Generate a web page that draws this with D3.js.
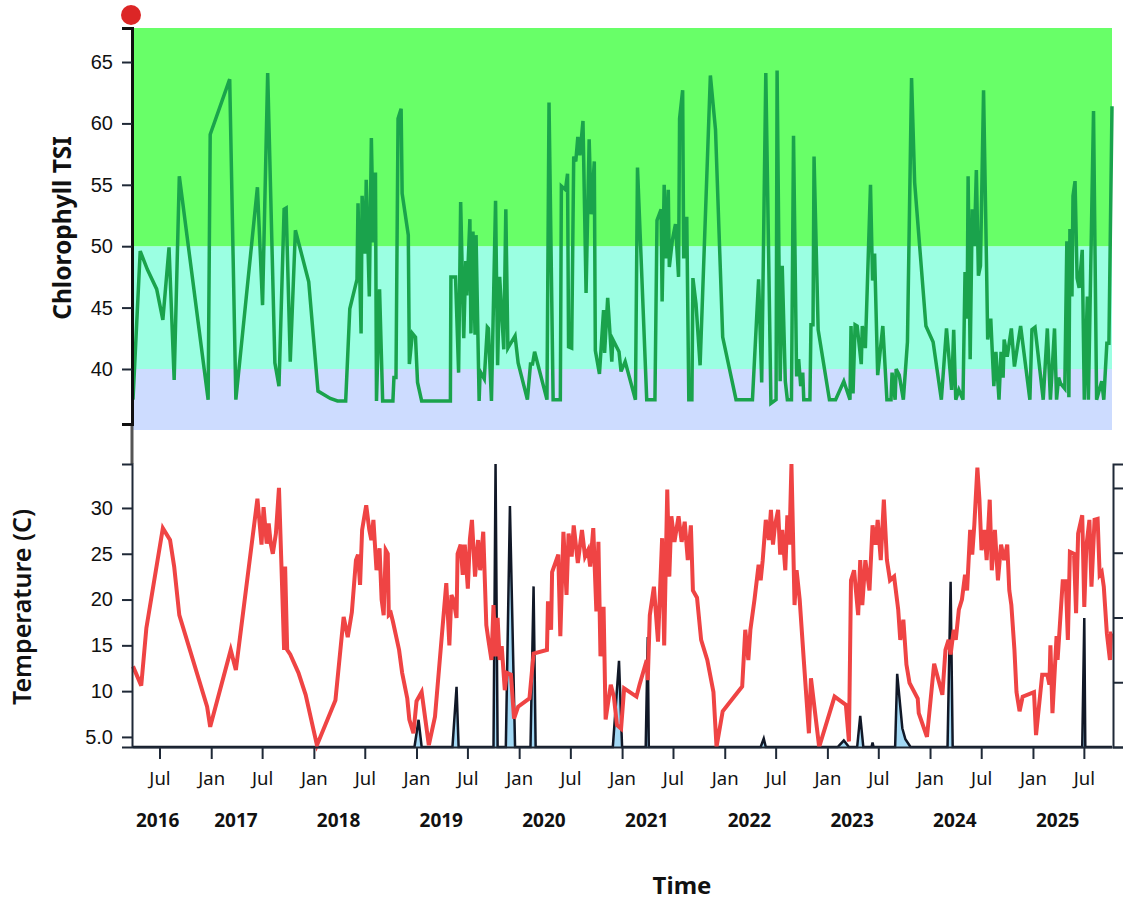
<!DOCTYPE html>
<html>
<head>
<meta charset="utf-8">
<script src="https://cdn.jsdelivr.net/npm/d3@7"></script>
<style>
  body { margin: 0; background: #fff; }
  text { font-family: "Noto Sans", sans-serif; }
</style>
</head>
<body>
<div id="chart"></div>
<script>
// sample dates are decimal years
var tsiYears = [2016.24,2016.31,2016.38,2016.47,2016.53,2016.59,2016.64,2016.69,2016.97,2016.99,2017.18,2017.24,2017.45,2017.50,2017.55,2017.62,2017.66,2017.71,2017.73,2017.77,2017.82,2017.95,2018.04,2018.16,2018.23,2018.31,2018.35,2018.42,2018.43,2018.46,2018.47,2018.50,2018.51,2018.54,2018.56,2018.58,2018.60,2018.61,2018.64,2018.67,2018.77,2018.78,2018.80,2018.82,2018.85,2018.86,2018.92,2018.93,2018.96,2018.99,2019.01,2019.05,2019.33,2019.335,2019.38,2019.41,2019.43,2019.46,2019.48,2019.49,2019.52,2019.53,2019.55,2019.57,2019.58,2019.61,2019.62,2019.66,2019.69,2019.70,2019.73,2019.77,2019.79,2019.81,2019.85,2019.87,2019.89,2019.96,2019.99,2020.08,2020.11,2020.13,2020.15,2020.27,2020.29,2020.33,2020.40,2020.41,2020.45,2020.47,2020.48,2020.51,2020.53,2020.55,2020.57,2020.59,2020.62,2020.65,2020.68,2020.70,2020.73,2020.74,2020.78,2020.82,2020.83,2020.86,2020.90,2020.91,2020.97,2020.99,2021.03,2021.13,2021.15,2021.24,2021.32,2021.34,2021.38,2021.39,2021.41,2021.43,2021.45,2021.46,2021.49,2021.52,2021.55,2021.56,2021.59,2021.60,2021.63,2021.65,2021.68,2021.69,2021.72,2021.76,2021.86,2021.91,2021.98,2022.11,2022.27,2022.33,2022.36,2022.40,2022.45,2022.50,2022.51,2022.54,2022.56,2022.59,2022.61,2022.65,2022.67,2022.70,2022.72,2022.74,2022.76,2022.77,2022.83,2022.84,2022.86,2022.87,2022.91,2023.02,2023.08,2023.16,2023.22,2023.23,2023.25,2023.27,2023.29,2023.33,2023.34,2023.37,2023.42,2023.44,2023.46,2023.49,2023.54,2023.58,2023.62,2023.63,2023.66,2023.67,2023.70,2023.74,2023.78,2023.82,2023.85,2023.96,2024.03,2024.11,2024.16,2024.21,2024.23,2024.25,2024.28,2024.32,2024.34,2024.36,2024.37,2024.39,2024.41,2024.43,2024.45,2024.47,2024.49,2024.52,2024.55,2024.56,2024.59,2024.62,2024.64,2024.67,2024.69,2024.71,2024.72,2024.75,2024.79,2024.82,2024.88,2024.97,2024.99,2025.02,2025.10,2025.14,2025.17,2025.21,2025.23,2025.25,2025.27,2025.31,2025.33,2025.35,2025.36,2025.38,2025.39,2025.41,2025.43,2025.45,2025.48,2025.50,2025.53,2025.54,2025.59,2025.62,2025.67,2025.69,2025.72,2025.74,2025.77];
var tsiValues = [37.5,49.6,48.1,46.5,44.0,49.9,39.1,55.7,37.5,59.1,63.6,37.5,54.8,45.2,64.1,40.5,38.6,53.0,53.1,40.6,51.3,47.1,38.2,37.6,37.4,37.4,44.9,47.3,53.5,42.9,54.1,49.4,55.4,45.9,58.8,50.3,56.0,37.4,46.5,37.4,37.4,39.3,39.3,60.4,61.2,54.3,50.9,40.4,42.9,42.6,38.9,37.4,37.4,47.5,47.5,39.7,53.6,42.5,48.8,46.0,52.2,42.9,51.2,42.8,50.9,37.4,39.8,39.2,43.4,43.3,37.4,53.7,40.3,47.5,41.6,53.0,41.7,42.7,40.5,37.5,40.4,40.4,41.4,37.5,61.7,37.5,37.5,54.9,54.6,55.9,41.8,41.7,57.3,56.9,58.9,57.4,60.2,46.2,58.7,52.6,56.9,41.5,39.6,44.8,41.3,45.8,40.6,42.4,41.4,39.8,40.6,37.5,56.4,37.5,37.5,52.1,53.0,45.5,55.0,49.0,54.6,48.3,50.5,51.8,47.5,60.4,62.7,49.0,52.4,37.5,37.5,47.4,45.3,40.3,63.9,59.5,42.6,37.5,37.5,47.3,38.9,64.1,37.2,37.5,64.3,39.0,48.4,39.0,37.5,37.5,59.0,39.4,40.8,38.6,39.7,37.5,37.5,43.6,43.6,57.3,43.2,37.5,37.5,39.0,37.5,43.5,38.0,43.6,43.5,40.4,43.5,41.7,55.0,47.2,49.4,39.5,43.5,37.5,37.5,39.7,37.5,40.0,39.5,37.5,42.2,63.7,55.2,43.5,42.2,37.5,43.3,38.3,43.2,37.5,38.3,37.5,47.9,44.1,55.7,40.8,53.0,50.0,56.2,47.6,48.4,62.7,47.9,42.4,44.1,38.6,41.4,37.5,41.4,39.3,42.4,41.0,43.3,40.2,43.5,37.5,43.2,43.4,37.5,43.3,37.5,43.3,37.5,39.3,38.8,38.4,50.4,37.7,51.4,45.9,54.1,55.3,47.4,46.6,49.7,37.5,45.9,37.5,61.0,37.5,39.0,37.5,42.1,42.1,61.4];

var tempYears = [2016.24,2016.32,2016.37,2016.53,2016.60,2016.64,2016.69,2016.96,2016.99,2017.19,2017.24,2017.45,2017.49,2017.51,2017.54,2017.56,2017.58,2017.60,2017.63,2017.66,2017.71,2017.72,2017.74,2017.77,2017.85,2017.92,2018.03,2018.21,2018.29,2018.33,2018.37,2018.41,2018.43,2018.45,2018.47,2018.51,2018.54,2018.56,2018.58,2018.61,2018.64,2018.66,2018.68,2018.70,2018.72,2018.73,2018.75,2018.77,2018.83,2018.86,2018.91,2018.93,2018.97,2019.00,2019.05,2019.12,2019.18,2019.29,2019.32,2019.34,2019.36,2019.39,2019.40,2019.43,2019.45,2019.47,2019.50,2019.52,2019.54,2019.57,2019.60,2019.62,2019.65,2019.68,2019.70,2019.73,2019.75,2019.77,2019.79,2019.81,2019.83,2019.86,2019.88,2019.92,2019.95,2019.99,2020.10,2020.14,2020.27,2020.28,2020.31,2020.32,2020.38,2020.40,2020.43,2020.46,2020.48,2020.51,2020.53,2020.57,2020.61,2020.64,2020.67,2020.69,2020.72,2020.75,2020.77,2020.79,2020.82,2020.84,2020.89,2020.92,2020.95,2020.99,2021.02,2021.14,2021.17,2021.24,2021.25,2021.27,2021.31,2021.35,2021.39,2021.41,2021.44,2021.46,2021.48,2021.51,2021.55,2021.58,2021.61,2021.64,2021.67,2021.69,2021.73,2021.77,2021.83,2021.89,2021.92,2021.98,2022.17,2022.20,2022.23,2022.25,2022.29,2022.33,2022.35,2022.37,2022.40,2022.43,2022.45,2022.47,2022.49,2022.52,2022.54,2022.56,2022.59,2022.61,2022.63,2022.65,2022.68,2022.70,2022.73,2022.77,2022.82,2022.84,2022.92,2023.07,2023.18,2023.21,2023.23,2023.26,2023.30,2023.32,2023.34,2023.37,2023.41,2023.44,2023.47,2023.49,2023.52,2023.55,2023.58,2023.61,2023.65,2023.69,2023.71,2023.74,2023.77,2023.80,2023.88,2023.89,2023.97,2024.04,2024.12,2024.15,2024.18,2024.20,2024.23,2024.25,2024.28,2024.31,2024.34,2024.36,2024.39,2024.41,2024.43,2024.46,2024.48,2024.50,2024.53,2024.55,2024.58,2024.60,2024.63,2024.66,2024.69,2024.72,2024.75,2024.77,2024.79,2024.82,2024.84,2024.87,2024.90,2025.01,2025.03,2025.09,2025.14,2025.16,2025.17,2025.19,2025.23,2025.24,2025.29,2025.32,2025.34,2025.36,2025.40,2025.42,2025.44,2025.48,2025.50,2025.52,2025.55,2025.57,2025.60,2025.63,2025.65,2025.67,2025.69,2025.72,2025.75,2025.76,2025.77];
var tempValues = [12.7,10.6,16.9,27.8,26.5,23.6,18.3,8.3,6.1,14.5,12.3,31.0,26.0,30.1,26.1,28.3,26.1,25.0,27.2,32.2,14.5,23.6,14.5,14.0,12.0,9.6,4.1,9.0,18.1,15.9,18.6,24.3,24.9,21.6,27.6,30.3,27.6,26.5,28.7,23.2,25.6,20.0,18.3,25.4,25.0,18.3,18.5,17.6,14.5,12.0,9.2,6.9,5.4,8.9,9.9,4.1,7.2,21.8,15.0,20.5,20.0,18.0,25.0,26.0,22.7,26.0,21.2,26.6,28.7,22.5,26.5,23.2,27.4,17.2,15.6,13.4,19.4,13.8,18.0,13.4,14.9,10.1,12.0,11.8,7.0,8.3,9.2,14.1,14.5,19.8,16.7,23.0,24.9,16.0,27.4,20.5,27.2,24.7,28.1,24.0,27.6,24.7,25.4,23.6,27.8,18.7,26.3,13.8,19.2,6.9,10.7,9.4,6.3,5.9,10.3,9.4,10.7,13.4,11.2,18.3,21.4,15.4,26.7,15.0,32.0,22.5,29.1,26.3,29.1,26.3,28.5,24.3,28.1,21.0,20.2,15.6,13.4,9.9,3.9,7.8,10.5,16.7,13.4,16.7,20.0,23.8,22.1,24.3,28.7,26.5,29.8,26.0,28.1,29.8,24.9,27.6,23.2,29.2,26.0,34.8,19.4,23.2,20.0,13.4,5.4,11.4,3.9,9.4,8.5,4.5,22.1,23.2,18.3,24.3,19.4,24.3,21.0,28.1,26.0,28.7,24.3,30.9,24.3,22.1,22.5,18.9,15.6,17.8,12.9,10.9,9.2,7.6,5.0,13.0,9.6,14.5,15.6,14.0,16.7,15.6,18.9,20.0,22.7,21.0,27.6,24.9,28.1,34.4,30.9,25.4,27.6,24.3,30.9,23.2,27.6,22.1,26.0,24.3,26.0,21.0,19.4,14.5,9.9,7.8,9.4,9.9,5.2,11.8,11.8,10.7,15.0,7.6,16.0,13.4,22.0,22.0,15.6,25.2,25.0,18.5,27.2,29.2,19.2,25.8,28.7,21.4,28.7,28.8,22.7,23.0,21.4,16.3,13.4,16.3,16.3];

var rainYears = [2016.24,2018.98,2019.02,2019.05,2019.35,2019.39,2019.41,2019.75,2019.77,2019.79,2019.87,2019.91,2019.96,2020.11,2020.14,2020.16,2020.91,2020.97,2021.00,2021.23,2021.25,2021.26,2022.35,2022.38,2022.40,2023.10,2023.16,2023.21,2023.29,2023.32,2023.35,2023.43,2023.44,2023.45,2023.66,2023.68,2023.73,2023.76,2023.81,2024.17,2024.20,2024.22,2025.48,2025.50,2025.51,2025.77];
var rainValues = [0,0,0.42,0,0,0.93,0,0,4.37,0,0,3.72,0,0,2.48,0,0,1.33,0,0,1.7,0,0,0.13,0,0,0.1,0,0,0.48,0,0,0.07,0,0,1.13,0.29,0.12,0,0,2.55,0,0,1.99,0,0];

var tsiBreaks = [40, 50];
var tsiBandColors = ["#cddcff", "#9bffe2", "#68ff68"];
var tsiTicks = [40, 45, 50, 55, 60, 65];
var tempTicks = [5, 10, 15, 20, 25, 30];
var rainTicks = [0, 1, 2, 3, 4];
var yearLabels = [2016, 2017, 2018, 2019, 2020, 2021, 2022, 2023, 2024, 2025];

function toDate(y) {
  var yr = Math.floor(y);
  var a = new Date(yr, 0, 1), b = new Date(yr + 1, 0, 1);
  return new Date(+a + (y - yr) * (b - a));
}

var width = 1130;
var height = 902;
var left = 133, right = 1112;

var svg = d3.select("#chart")
  .append("svg")
  .attr("width", width)
  .attr("height", height);

var tsi = tsiYears.map(function (y, i) { return { date: toDate(y), value: tsiValues[i] }; });
var temp = tempYears.map(function (y, i) { return { date: toDate(y), value: tempValues[i] }; });
var rain = rainYears.map(function (y, i) { return { date: toDate(y), value: rainValues[i] }; });

var x = d3.scaleTime()
  .domain(d3.extent(tsi, function (d) { return d.date; }))
  .range([left, right]);

var yTsi = d3.scaleLinear().domain([35.52, 67.77]).range([424, 28]);
var yTemp = d3.scaleLinear().domain([3.9, 34.8]).range([747, 464]);
var yRain = d3.scaleLinear().domain([0, d3.max(rainValues)]).range([747, 464]);

// trophic state bands behind the chlorophyll line
var bandEdges = [430, yTsi(tsiBreaks[0]), yTsi(tsiBreaks[1]), yTsi.range()[1]];
svg.selectAll(".band")
  .data(tsiBandColors)
  .enter().append("rect")
  .attr("class", "band")
  .attr("x", left)
  .attr("width", right - left)
  .attr("y", function (d, i) { return bandEdges[i + 1]; })
  .attr("height", function (d, i) { return bandEdges[i] - bandEdges[i + 1]; })
  .attr("fill", function (d) { return d; });

svg.append("path")
  .datum(tsi)
  .attr("fill", "none")
  .attr("stroke", "#1aa34c")
  .attr("stroke-width", 3.5)
  .attr("d", d3.line()
    .x(function (d) { return x(d.date); })
    .y(function (d) { return yTsi(d.value); }));

// grey connector between the two panels
svg.append("line")
  .attr("x1", 132).attr("x2", 132)
  .attr("y1", 424).attr("y2", 464)
  .attr("stroke", "#555")
  .attr("stroke-width", 3);

var tsiAxis = svg.append("g")
  .attr("class", "axis")
  .attr("transform", "translate(" + (left - 1) + ",0)")
  .call(d3.axisLeft(yTsi).tickValues(tsiTicks).tickSize(10).tickPadding(9));
tsiAxis.select(".domain").attr("stroke", "#111").attr("stroke-width", 3);

// precipitation spikes
svg.append("path")
  .datum(rain)
  .attr("fill", "#a3d9f5")
  .attr("d", d3.area()
    .x(function (d) { return x(d.date); })
    .y0(yRain(0))
    .y1(function (d) { return yRain(d.value); }));
svg.append("path")
  .datum(rain)
  .attr("fill", "none")
  .attr("stroke", "#111827")
  .attr("stroke-width", 2.5)
  .attr("d", d3.line()
    .x(function (d) { return x(d.date); })
    .y(function (d) { return yRain(d.value); }));

svg.append("path")
  .datum(temp)
  .attr("fill", "none")
  .attr("stroke", "#ef4444")
  .attr("stroke-width", 4)
  .attr("d", d3.line()
    .x(function (d) { return x(d.date); })
    .y(function (d) { return yTemp(d.value); }));

var tempAxis = svg.append("g")
  .attr("class", "axis")
  .attr("transform", "translate(" + (left - 1) + ",0)")
  .call(d3.axisLeft(yTemp).tickValues(tempTicks).tickFormat(d3.format(".2r")).tickSize(10).tickPadding(9));

var rainAxis = svg.append("g")
  .attr("class", "axis")
  .attr("transform", "translate(" + (right + 1) + ",0)")
  .call(d3.axisRight(yRain).tickValues(rainTicks).tickFormat("").tickSize(10));

var xAxis = svg.append("g")
  .attr("class", "axis")
  .attr("transform", "translate(0,747)")
  .call(d3.axisBottom(x).ticks(d3.timeMonth.every(6)).tickFormat(d3.timeFormat("%b")).tickSize(12).tickSizeOuter(0).tickPadding(13));

svg.selectAll(".axis path, .axis line")
  .filter(function () { return !d3.select(this).attr("stroke-width"); })
  .attr("stroke", "#1f2937")
  .attr("stroke-width", 2);
svg.selectAll(".axis .tick text")
  .attr("fill", "#111")
  .style("font-size", "20px")
  .style("font-family", "'Liberation Sans', Arial, sans-serif");
xAxis.selectAll(".tick text")
  .style("font-family", "'Noto Sans', sans-serif")
  .style("font-size", "18.5px");

// year labels start at 1 January, clamped to the plot edge
svg.selectAll(".year")
  .data(yearLabels)
  .enter().append("text")
  .attr("class", "year")
  .attr("x", function (d) { return Math.max(x(new Date(d, 0, 1)), left) + 3; })
  .attr("y", 827)
  .attr("font-size", 19)
  .attr("font-weight", "bold")
  .attr("fill", "#111")
  .text(function (d) { return d; });

svg.append("text")
  .attr("x", 682)
  .attr("y", 894)
  .attr("text-anchor", "middle")
  .attr("font-size", 24)
  .attr("font-weight", "bold")
  .attr("fill", "#111")
  .text("Time");

svg.append("text")
  .attr("transform", "translate(71,228) rotate(-90)")
  .attr("text-anchor", "middle")
  .attr("font-size", 24.5)
  .attr("font-weight", "bold")
  .attr("fill", "#111")
  .text("Chlorophyll TSI");

svg.append("text")
  .attr("transform", "translate(31,607) rotate(-90)")
  .attr("text-anchor", "middle")
  .attr("font-size", 25)
  .attr("font-weight", 600)
  .attr("fill", "#111")
  .text("Temperature (C)");

svg.append("circle")
  .attr("cx", 131)
  .attr("cy", 15)
  .attr("r", 10)
  .attr("fill", "#dc2626");
</script>
</body>
</html>
